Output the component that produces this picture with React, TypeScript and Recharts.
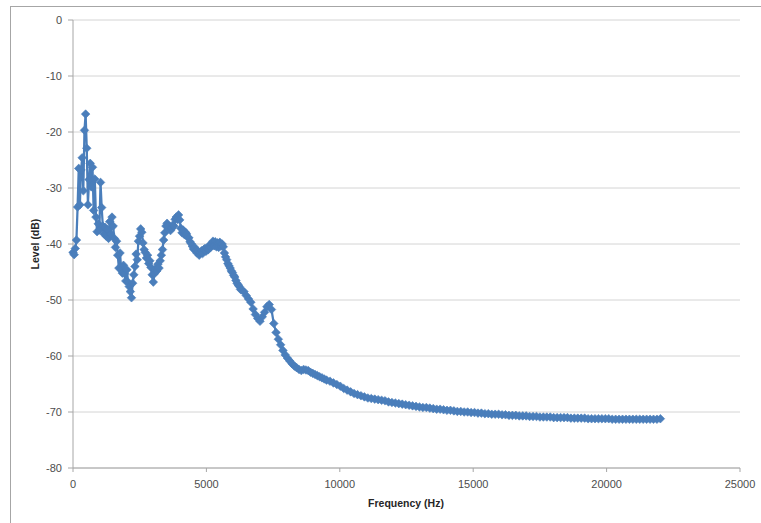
import React from 'react';
import { LineChart, Line, XAxis, YAxis, CartesianGrid } from 'recharts';

// Frequency bins (Hz) and levels (dB)
const lowFreq = [
  0, 43, 86, 129, 172, 215, 258, 301, 344, 387, 430, 473, 516, 559, 602, 645, 688, 731, 774, 817,
  860, 903, 946, 989, 1032, 1075, 1118, 1161, 1204, 1247, 1290, 1333, 1376, 1419, 1462, 1505, 1548, 1591, 1634, 1677,
  1720, 1763, 1806, 1849, 1892, 1935, 1978, 2021, 2064, 2107, 2150, 2193, 2236, 2279, 2322, 2365, 2408, 2451, 2494, 2537,
  2580, 2623, 2666, 2709, 2752, 2795, 2838, 2881, 2924, 2967, 3010, 3053, 3096, 3139, 3182, 3225, 3268, 3311, 3354, 3397,
  3440, 3483, 3526, 3569, 3612, 3655, 3698, 3741, 3784, 3827, 3870, 3913, 3956, 3999, 4042, 4085, 4128, 4171, 4214, 4257,
  4300, 4343, 4386, 4429, 4472, 4515, 4558, 4601, 4644, 4687, 4730, 4773, 4816, 4859, 4902, 4945, 4988, 5031, 5074, 5117,
  5160, 5203, 5246, 5289, 5332, 5375, 5418, 5461, 5504, 5547, 5590, 5633, 5676, 5719, 5762, 5805, 5848, 5891, 5934, 5977,
  6020, 6063, 6106, 6149, 6192, 6235, 6278, 6321,
];
const lowLevel = [
  -41.5, -41.9, -40.8, -39.3, -33.4, -26.5, -33.0, -26.8, -24.6, -30.5, -19.7, -16.8, -22.9, -33.0, -28.5, -25.6, -29.8, -26.3, -34.0, -28.4,
  -35.2, -37.8, -36.4, -37.5, -29.0, -33.5, -36.8, -38.2, -37.0, -38.6, -37.4, -39.0, -36.0, -38.2, -35.2, -36.8, -39.0, -40.6, -39.5, -42.0,
  -44.3, -41.6, -44.5, -45.2, -43.8, -45.3, -46.6, -44.6, -46.8, -47.6, -48.5, -49.6, -47.0, -45.5, -44.0, -41.8, -42.8, -39.5, -38.6, -37.3,
  -37.9, -39.8, -41.0, -41.5, -42.5, -42.0, -43.5, -43.0, -44.2, -45.5, -46.8, -45.3, -44.4, -44.8, -43.6, -44.3, -43.0, -42.0, -41.0, -39.3,
  -38.0, -36.8, -36.3, -36.8, -37.0, -37.6, -37.2, -36.6, -36.8, -35.6, -35.2, -35.6, -34.8, -35.7, -37.2, -38.0, -37.5, -38.3, -37.9, -38.2,
  -38.8, -38.9, -39.6, -39.9, -40.4, -40.9, -40.6, -41.2, -41.6, -41.3, -42.0, -41.5, -41.2, -41.7, -41.0, -40.8, -41.3, -40.9, -41.0, -40.2,
  -40.6, -40.0, -39.5, -40.3, -39.6, -40.5, -39.8, -40.6, -39.7, -40.4, -40.0, -40.5, -41.6, -42.3, -42.8, -43.5, -43.9, -44.3, -44.8, -45.1,
  -45.6, -45.9, -46.5, -47.0, -47.3, -47.6, -48.1, -48.2,
];

const midFreq = [
  6407, 6493, 6579, 6665, 6751, 6837, 6923, 7009, 7095, 7181, 7267, 7353, 7439, 7525, 7611, 7697, 7783, 7869, 7955, 8041,
  8127, 8213, 8299, 8385, 8471, 8557, 8643, 8729, 8815, 8901, 8987, 9073, 9159, 9245, 9331, 9417, 9503,
];
const midLevel = [
  -48.5, -49.2, -49.8, -50.4, -51.6, -52.6, -53.3, -53.8, -53.0, -52.2, -51.2, -50.8, -51.7, -54.2, -55.8, -57.0, -58.0, -59.0, -59.8, -60.4,
  -60.9, -61.4, -61.8, -62.1, -62.4, -62.6, -62.4, -62.5, -62.6, -62.9, -63.1, -63.3, -63.5, -63.7, -63.9, -64.1, -64.3,
];

const highFreq = [
  9632, 9761, 9890, 10019, 10148, 10277, 10406, 10535, 10664, 10793, 10922, 11051, 11180, 11309, 11438, 11567, 11696, 11825, 11954, 12083,
  12212, 12341, 12470, 12599, 12728, 12857, 12986, 13115, 13244, 13373, 13502, 13631, 13760, 13889, 14018, 14147, 14276, 14405, 14534, 14663,
  14792, 14921, 15050, 15179, 15308, 15437, 15566, 15695, 15824, 15953, 16082, 16211, 16340, 16469, 16598, 16727, 16856, 16985, 17114, 17243,
  17372, 17501, 17630, 17759, 17888, 18017, 18146, 18275, 18404, 18533, 18662, 18791, 18920, 19049, 19178, 19307, 19436, 19565, 19694, 19823,
  19952, 20081, 20210, 20339, 20468, 20597, 20726, 20855, 20984, 21113, 21242, 21371, 21500, 21629, 21758, 21887, 22016,
];
const highLevel = [
  -64.5, -64.8, -65.1, -65.4, -65.8, -66.1, -66.4, -66.7, -66.9, -67.1, -67.3, -67.5, -67.6, -67.7, -67.8, -67.9, -68.0, -68.2, -68.3, -68.4,
  -68.5, -68.6, -68.7, -68.8, -68.9, -69.0, -69.1, -69.2, -69.2, -69.3, -69.4, -69.5, -69.5, -69.6, -69.7, -69.7, -69.8, -69.9, -69.9, -70.0,
  -70.0, -70.1, -70.1, -70.2, -70.2, -70.3, -70.3, -70.4, -70.4, -70.4, -70.5, -70.5, -70.6, -70.6, -70.6, -70.7, -70.7, -70.7, -70.8, -70.8,
  -70.8, -70.9, -70.9, -70.9, -70.9, -71.0, -71.0, -71.0, -71.0, -71.0, -71.1, -71.1, -71.1, -71.1, -71.1, -71.2, -71.2, -71.2, -71.2, -71.2,
  -71.2, -71.2, -71.3, -71.3, -71.3, -71.3, -71.3, -71.3, -71.3, -71.3, -71.3, -71.3, -71.3, -71.3, -71.3, -71.3, -71.2,
];

const xTicks = [0, 5000, 10000, 15000, 20000, 25000];
const yTicks = [0, -10, -20, -30, -40, -50, -60, -70, -80];

const allFreq = [...lowFreq, ...midFreq, ...highFreq];
const allLevel = [...lowLevel, ...midLevel, ...highLevel];
const data = allFreq
  .map((f, i) => ({ f, db: allLevel[i] }))
  .filter((d) => typeof d.db === 'number');

const BLUE = '#4A7EBB';
const FONT = '"Liberation Sans", Arial, sans-serif';

const Diamond = (props: any) => {
  const { cx, cy, index } = props;
  if (cx == null || cy == null) return <g key={`d-${index}`} />;
  const r = 4.3;
  return (
    <path
      key={`d-${index}`}
      d={`M${cx},${cy - r}L${cx + r},${cy}L${cx},${cy + r}L${cx - r},${cy}Z`}
      fill={BLUE}
      stroke={BLUE}
      strokeWidth={0.6}
    />
  );
};

export default function App() {
  return (
    <div
      style={{
        position: 'absolute',
        left: 0,
        top: 0,
        width: 761,
        height: 523,
        overflow: 'hidden',
        background: '#fff',
        fontFamily: FONT,
      }}
    >
      <div
        style={{
          position: 'absolute',
          left: 10,
          top: 6,
          width: 800,
          height: 600,
          borderLeft: '1px solid #a6a6a6',
          borderTop: '1px solid #a6a6a6',
        }}
      />
      <div style={{ position: 'absolute', left: 0, top: 0 }}>
        <LineChart
          width={761}
          height={523}
          data={data}
          margin={{ top: 20, right: 21, bottom: 25, left: 33 }}
        >
          <CartesianGrid vertical={false} stroke="#d4d4d4" strokeWidth={1} />
          <XAxis
            type="number"
            dataKey="f"
            domain={[0, 25000]}
            ticks={xTicks}
            interval={0}
            height={30}
            tickSize={4}
            tickMargin={8}
            stroke="#a6a6a6"
            tick={{ fontSize: 11, fill: '#4d4d4d', fontFamily: FONT }}
          />
          <YAxis
            type="number"
            domain={[-80, 0]}
            ticks={yTicks}
            interval={0}
            width={40}
            tickSize={5}
            tickMargin={6}
            stroke="#a6a6a6"
            tick={{ fontSize: 11, fill: '#4d4d4d', fontFamily: FONT }}
          />
          <Line
            type="linear"
            dataKey="db"
            stroke={BLUE}
            strokeWidth={2.25}
            dot={Diamond}
            activeDot={false}
            isAnimationActive={false}
          />
        </LineChart>
      </div>
      <div
        style={{
          position: 'absolute',
          left: 306,
          top: 495,
          width: 200,
          textAlign: 'center',
          fontSize: 10.5,
          fontWeight: 'bold',
          color: '#262626',
          lineHeight: '16px',
        }}
      >
        Frequency (Hz)
      </div>
      <div
        style={{
          position: 'absolute',
          left: -15,
          top: 236,
          width: 100,
          textAlign: 'center',
          fontSize: 10.5,
          fontWeight: 'bold',
          color: '#262626',
          lineHeight: '16px',
          transform: 'rotate(-90deg)',
        }}
      >
        Level (dB)
      </div>
    </div>
  );
}
